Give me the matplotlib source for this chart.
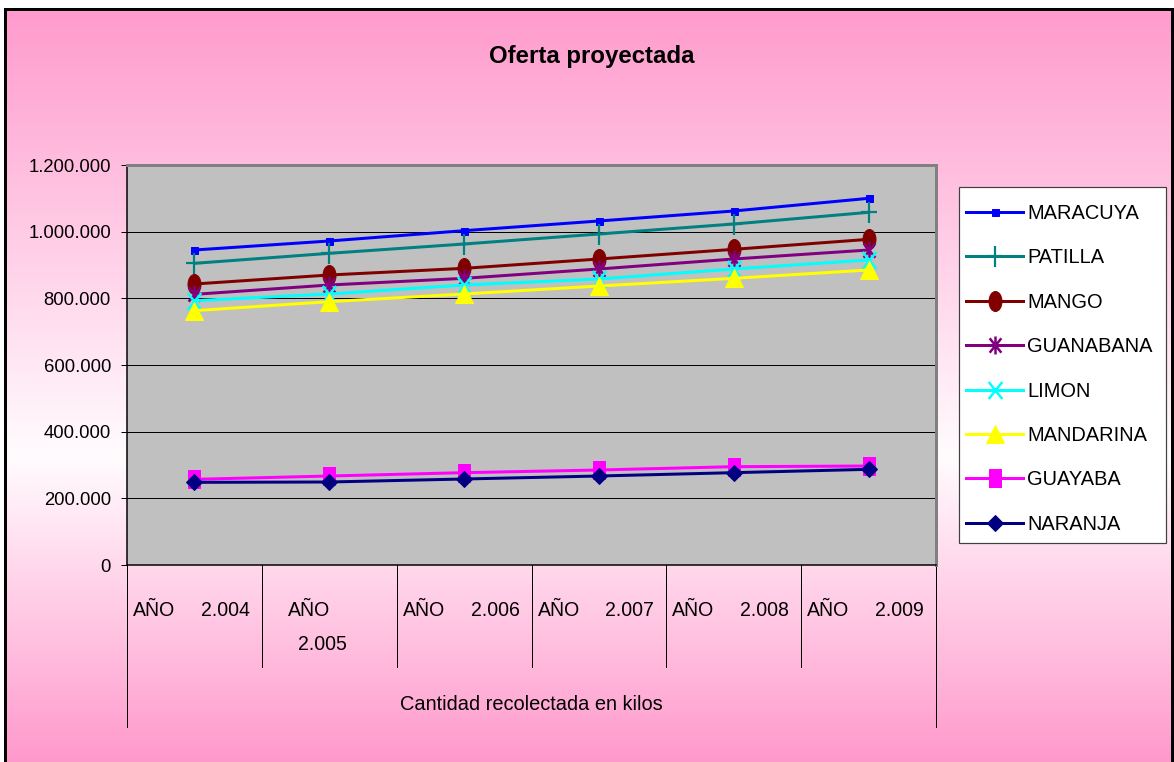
import numpy as np
import matplotlib
matplotlib.use("Agg")
import matplotlib.pyplot as plt
from matplotlib.path import Path
from matplotlib.transforms import Affine2D, blended_transform_factory
from matplotlib.ticker import FuncFormatter
from matplotlib.patches import Rectangle

plt.rcParams.update({
    "font.family": ["Liberation Sans", "DejaVu Sans"],
})

# Projected supply (kg) per fruit, 2004-2009
years = ["2.004", "2.005", "2.006", "2.007", "2.008", "2.009"]
maracuya = [945000, 972000, 1003000, 1032000, 1062000, 1100000]
patilla = [905000, 935000, 963000, 993000, 1023000, 1058000]
mango = [843000, 870000, 890000, 918000, 947000, 977000]
guanabana = [812000, 840000, 860000, 888000, 918000, 945000]
limon = [793000, 813000, 840000, 858000, 888000, 915000]
mandarina = [763000, 790000, 813000, 837000, 860000, 885000]
guayaba = [257000, 267000, 277000, 285000, 295000, 297000]
naranja = [248000, 249000, 258000, 267000, 277000, 287000]

W, H, DPI = 1174, 762, 72

# Excel-like markers
ellipse = Path.unit_circle().transformed(Affine2D().scale(0.65, 1.0))
tall_square = Path([(-0.7, -1), (0.7, -1), (0.7, 1), (-0.7, 1), (-0.7, -1)],
                   [Path.MOVETO, Path.LINETO, Path.LINETO, Path.LINETO, Path.CLOSEPOLY])
tall_plus = Path([(-0.75, 0), (0.75, 0), (0, -1), (0, 1)],
                 [Path.MOVETO, Path.LINETO, Path.MOVETO, Path.LINETO])
star = Path([(0, -1), (0, 1), (-0.65, -0.8), (0.65, 0.8), (-0.65, 0.8), (0.65, -0.8)],
            [Path.MOVETO, Path.LINETO, Path.MOVETO, Path.LINETO, Path.MOVETO, Path.LINETO])
tall_x = Path([(-0.8, -1), (0.8, 1), (-0.8, 1), (0.8, -1)],
              [Path.MOVETO, Path.LINETO, Path.MOVETO, Path.LINETO])

series = [
    ("MARACUYA", maracuya, "#0000FF", dict(marker="s", ms=7)),
    ("PATILLA", patilla, "#008080", dict(marker=tall_plus, ms=21, mew=2.2)),
    ("MANGO", mango, "#800000", dict(marker=ellipse, ms=20)),
    ("GUANABANA", guanabana, "#800080", dict(marker=star, ms=18, mew=2.5, mfc="none")),
    ("LIMON", limon, "#00FFFF", dict(marker=tall_x, ms=17, mew=2.5, mfc="none")),
    ("MANDARINA", mandarina, "#FFFF00", dict(marker="^", ms=18)),
    ("GUAYABA", guayaba, "#FF00FF", dict(marker=tall_square, ms=18)),
    ("NARANJA", naranja, "#000080", dict(marker="D", ms=12)),
]

fig = plt.figure(figsize=(W / DPI, H / DPI), dpi=DPI)

# pink background with a light band
bg = fig.add_axes([0, 0, 1, 1], zorder=-10)
t = np.linspace(0, 1, 400)
mid = 0.60
w = np.clip(np.where(t < mid, t / mid, (1 - t) / (1 - mid)), 0, 1)
pink = np.array([255, 153, 204]) / 255
white = np.array([255, 252, 254]) / 255
grad = pink[None, :] * (1 - w[:, None]) + white[None, :] * w[:, None]
bg.imshow(grad[:, None, :], aspect="auto", extent=[0, 1, 0, 1])
bg.set_xlim(0, 1)
bg.set_ylim(0, 1)
bg.axis("off")
# white margin outside the chart frame
for r in [(0, 0, 5 / W, 1), (0, 1 - 8 / H, 1, 8 / H)]:
    bg.add_patch(Rectangle(r[:2], r[2], r[3], facecolor="white", edgecolor="none", zorder=2))
bg.add_patch(Rectangle((5 / W, -10 / H), (1172 - 5) / W, (762 - 8.5 + 10) / H,
                       facecolor="none", edgecolor="black", lw=3, zorder=3))
# legend box, sized independently of the legend entries
bg.add_patch(Rectangle((959 / W, 1 - 543 / H), (1166 - 959) / W, (543 - 187) / H,
                       facecolor="white", edgecolor="#404040", lw=1.2, zorder=4))

ax = fig.add_axes([127 / W, (H - 565) / H, (936 - 127) / W, 400 / H])
ax.set_facecolor("#C0C0C0")
x = np.arange(len(years))
for name, vals, color, mk in series:
    ax.plot(x, vals, color=color, lw=3, label=name, mec=color, mfc=mk.pop("mfc", color),
            **mk)

ax.set_xlim(-0.5, len(years) - 0.5)
ax.set_ylim(0, 1200000)
ax.set_yticks(np.arange(0, 1200001, 200000))
ax.yaxis.set_major_formatter(FuncFormatter(lambda v, p: f"{int(v):,}".replace(",", ".")))
ax.tick_params(axis="y", direction="out", length=6, width=1, labelsize=18.5, pad=10)
ax.set_xticks([])
ax.grid(axis="y", color="black", lw=1)
ax.set_axisbelow(True)
for s in ["top", "right"]:
    ax.spines[s].set_color("#808080")
    ax.spines[s].set_linewidth(3)
for s in ["left", "bottom"]:
    ax.spines[s].set_color("black")
    ax.spines[s].set_linewidth(1.5)

# category table under the axis
tr = blended_transform_factory(ax.transData, ax.transAxes)
for b in np.arange(-0.5, len(years)):
    low = -0.405 if b in (-0.5, len(years) - 0.5) else -0.255
    ax.plot([b, b], [0, low], color="black", lw=1, transform=tr, clip_on=False)
for i, yr in enumerate(years):
    if i == 1:
        ax.annotate("AÑO", (i, 0), xycoords=tr, xytext=(-20, -45), textcoords="offset points",
                    ha="center", va="center", fontsize=19.5)
        ax.annotate(yr, (i, 0), xycoords=tr, xytext=(-7, -80), textcoords="offset points",
                    ha="center", va="center", fontsize=19.5)
    else:
        ax.annotate("AÑO", (i - 0.5, 0), xycoords=tr, xytext=(6, -45),
                    textcoords="offset points", ha="left", va="center", fontsize=19.5)
        ax.annotate(yr, (i + 0.5, 0), xycoords=tr, xytext=(-12, -45),
                    textcoords="offset points", ha="right", va="center", fontsize=19.5)
ax.text(0.5, -0.35, "Cantidad recolectada en kilos", transform=ax.transAxes,
        ha="center", va="center", fontsize=20)

fig.text(592 / W, 1 - 57 / H, "Oferta proyectada", ha="center", va="center",
         fontsize=24, fontweight="bold")

leg = ax.legend(loc="upper left", bbox_to_anchor=(966 / W, 1 - 204 / H),
                bbox_transform=fig.transFigure, fontsize=20, frameon=False,
                handlelength=2.85, handletextpad=0.2, labelspacing=1.27,
                borderpad=0, borderaxespad=0)

fig.savefig("out.png", dpi=DPI)
